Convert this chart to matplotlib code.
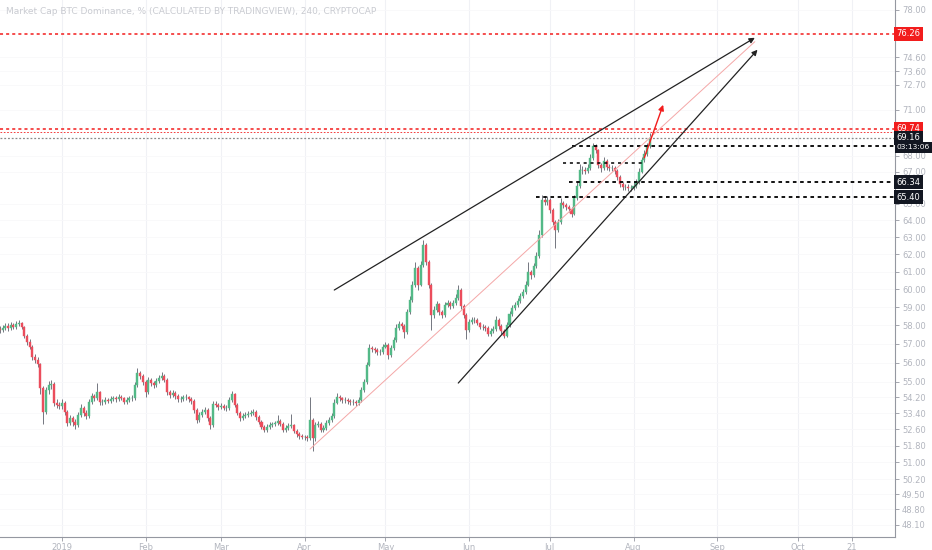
import numpy as np
import pandas as pd
import matplotlib
matplotlib.use("Agg")
import matplotlib.pyplot as plt
import matplotlib.dates as mdates
from matplotlib.ticker import FixedLocator, FixedFormatter, NullLocator

# daily candles, first day 2018-12-09
start = pd.Timestamp("2018-12-09")
first_open = 57.80
closes = [
    57.75, 57.85, 57.96, 57.85, 58.02, 57.91, 58.07, 58.12, 57.91, 57.42,
    57.10, 56.83, 56.30, 56.14, 55.93, 54.68, 53.47, 54.58, 54.84, 54.89,
    53.92, 53.82, 53.77, 53.92, 53.47, 52.91, 53.16, 52.96, 52.81, 53.32,
    53.67, 53.42, 53.26, 53.97, 54.27, 54.17, 54.48, 53.97, 53.97, 54.07,
    54.02, 54.12, 54.17, 54.12, 54.22, 54.17, 53.97, 54.07, 54.17, 54.17,
    54.84, 55.46, 55.31, 54.99, 54.48, 55.10, 54.94, 54.84, 55.05, 55.20,
    55.31, 55.10, 54.48, 54.33, 54.43, 54.27, 54.12, 54.12, 54.22, 54.22,
    54.12, 54.02, 53.57, 53.06, 53.32, 53.47, 53.57, 53.16, 52.81, 53.87,
    53.82, 53.72, 53.77, 53.67, 53.67, 54.07, 54.38, 53.82, 53.42, 53.16,
    53.26, 53.32, 53.37, 53.42, 53.47, 53.21, 52.96, 52.72, 52.57, 52.72,
    52.81, 52.86, 52.91, 53.01, 52.86, 52.57, 52.67, 52.77, 52.81, 52.52,
    52.37, 52.28, 52.23, 52.23, 52.18, 53.06, 52.18, 52.81, 52.86, 52.57,
    52.67, 52.91, 53.06, 53.26, 53.92, 54.22, 54.17, 54.07, 54.07, 54.02,
    53.97, 53.97, 53.92, 54.07, 54.58, 54.99, 55.88, 56.77, 56.72, 56.67,
    56.56, 56.56, 56.83, 56.94, 56.40, 56.77, 57.21, 57.85, 58.07, 57.96,
    57.64, 58.72, 59.39, 60.24, 61.21, 60.24, 61.38, 62.55, 61.56, 60.24,
    58.56, 58.84, 59.17, 58.72, 58.56, 59.11, 59.22, 59.06, 59.22, 59.51,
    59.95, 59.06, 58.56, 57.75, 58.18, 58.29, 58.29, 58.12, 57.91, 57.91,
    57.85, 57.53, 57.69, 57.80, 58.29, 57.96, 57.69, 57.42, 58.02, 58.61,
    58.95, 59.11, 59.34, 59.62, 59.84, 60.24, 60.98, 60.81, 61.32, 61.90,
    63.14, 65.24, 65.12, 65.24, 64.63, 63.91, 63.43, 63.91, 65.06, 64.93,
    64.81, 64.69, 64.39, 65.36, 66.11, 67.11, 67.11, 67.04, 67.23, 67.86,
    68.63, 68.38, 67.42, 67.23, 67.67, 67.30, 67.23, 67.23, 67.04, 66.66,
    66.23, 66.04, 66.04, 65.98, 65.98, 66.11, 66.35, 66.98, 67.74, 68.12,
    68.63, 69.16,
]
highs = [
    57.98, 58.02, 58.15, 58.10, 58.20, 58.14, 58.22, 58.30, 58.20, 57.98,
    57.55, 57.25, 56.95, 56.45, 56.28, 56.00, 54.80, 54.75, 55.05, 55.12,
    55.00, 54.10, 53.98, 54.12, 54.02, 53.55, 53.32, 53.25, 53.10, 53.45,
    53.85, 53.78, 53.55, 54.12, 54.45, 54.38, 54.92, 54.55, 54.12, 54.20,
    54.18, 54.26, 54.30, 54.28, 54.36, 54.32, 54.25, 54.20, 54.30, 54.32,
    55.00, 55.70, 55.58, 55.40, 55.08, 55.25, 55.22, 55.05, 55.20, 55.35,
    55.50, 55.42, 55.18, 54.60, 54.58, 54.55, 54.38, 54.28, 54.35, 54.36,
    54.30, 54.22, 54.10, 53.65, 53.48, 53.62, 53.72, 53.65, 53.25, 54.00,
    54.02, 53.92, 53.90, 53.88, 53.82, 54.22, 54.55, 54.45, 53.90, 53.50,
    53.40, 53.45, 53.50, 53.58, 53.62, 53.55, 53.30, 53.05, 52.82, 52.85,
    52.95, 52.98, 53.02, 53.30, 53.10, 52.95, 52.80, 52.90, 53.35, 52.88,
    52.60, 52.45, 52.38, 52.35, 52.32, 54.20, 53.15, 52.95, 53.00, 52.95,
    52.80, 53.05, 53.20, 53.42, 54.10, 54.42, 54.32, 54.25, 54.22, 54.18,
    54.12, 54.10, 54.08, 54.22, 54.75, 55.15, 56.05, 56.98, 56.90, 56.85,
    56.75, 56.72, 57.00, 57.10, 57.02, 56.92, 57.38, 58.05, 58.25, 58.18,
    58.05, 58.90, 59.60, 60.45, 61.55, 61.30, 61.60, 62.85, 62.65, 61.65,
    60.35, 59.05, 59.35, 59.25, 58.85, 59.30, 59.40, 59.32, 59.40, 59.70,
    60.25, 60.05, 59.15, 58.65, 58.35, 58.45, 58.45, 58.38, 58.20, 58.05,
    58.02, 57.95, 57.85, 57.95, 58.50, 58.38, 58.05, 57.78, 58.18, 58.78,
    59.12, 59.28, 59.50, 59.80, 60.02, 60.45, 61.55, 61.10, 61.50, 62.10,
    63.40, 65.55, 65.45, 65.50, 65.35, 64.75, 64.05, 64.10, 65.35, 65.20,
    65.05, 64.95, 64.80, 65.55, 66.35, 67.45, 67.35, 67.30, 67.50, 68.10,
    68.85, 68.75, 68.45, 67.55, 67.90, 67.78, 67.45, 67.42, 67.35, 67.15,
    66.78, 66.35, 66.25, 66.20, 66.18, 66.32, 66.55, 67.20, 67.95, 68.35,
    68.85, 69.45,
]
lows = [
    57.60, 57.62, 57.72, 57.70, 57.74, 57.78, 57.80, 57.95, 57.78, 57.30,
    56.95, 56.70, 56.15, 55.98, 55.75, 54.40, 52.85, 53.35, 54.40, 54.62,
    53.78, 53.65, 53.60, 53.62, 53.30, 52.75, 52.80, 52.78, 52.62, 52.70,
    53.20, 53.28, 53.10, 53.15, 53.85, 54.02, 54.05, 53.82, 53.84, 53.88,
    53.90, 53.92, 54.00, 53.98, 54.02, 54.05, 53.85, 53.88, 53.98, 54.04,
    54.08, 54.75, 55.15, 54.85, 54.20, 54.40, 54.80, 54.70, 54.75, 54.95,
    55.12, 54.98, 54.35, 54.18, 54.22, 54.12, 53.98, 53.98, 54.02, 54.08,
    53.98, 53.88, 53.42, 52.92, 52.95, 53.20, 53.35, 53.02, 52.62, 52.72,
    53.70, 53.58, 53.60, 53.55, 53.52, 53.58, 53.98, 53.70, 53.30, 53.02,
    53.05, 53.15, 53.20, 53.25, 53.30, 53.08, 52.85, 52.60, 52.45, 52.48,
    52.62, 52.70, 52.75, 52.80, 52.75, 52.45, 52.48, 52.58, 52.65, 52.40,
    52.25, 52.15, 52.12, 52.10, 52.05, 52.10, 51.55, 52.05, 52.70, 52.45,
    52.45, 52.58, 52.82, 52.95, 53.18, 53.85, 54.02, 53.92, 53.92, 53.88,
    53.82, 53.82, 53.78, 53.80, 53.98, 54.48, 54.90, 55.80, 56.58, 56.52,
    56.40, 56.42, 56.45, 56.75, 56.20, 56.30, 56.68, 57.12, 57.75, 57.80,
    57.30, 57.55, 58.62, 59.30, 60.12, 59.95, 60.15, 61.25, 61.40, 60.05,
    57.75, 58.40, 58.72, 58.55, 58.40, 58.45, 59.00, 58.90, 58.95, 59.10,
    59.40, 58.90, 58.40, 57.25, 57.65, 58.05, 58.12, 58.00, 57.78, 57.76,
    57.70, 57.40, 57.42, 57.58, 57.70, 57.82, 57.55, 57.30, 57.35, 57.92,
    58.50, 58.85, 59.00, 59.25, 59.50, 59.75, 60.15, 60.60, 60.70, 61.20,
    61.80, 63.00, 64.90, 64.95, 64.45, 63.70, 62.35, 63.30, 63.80, 64.75,
    64.62, 64.50, 64.20, 64.30, 65.25, 66.00, 66.85, 66.85, 66.90, 67.10,
    67.75, 68.20, 67.20, 66.95, 67.10, 67.12, 67.05, 67.05, 66.85, 66.48,
    66.05, 65.85, 65.82, 65.80, 65.78, 65.85, 65.98, 66.25, 66.88, 67.60,
    68.00, 68.50,
]

# drawings on the chart
red_levels = [76.26, 69.74]
red_thin = 69.55
red_labels = ["76.26", "69.74"]
last_price = 69.16
countdown = "03:13:06"
rays = [("2019-07-09", 68.64), ("2019-07-08", 66.34), ("2019-06-26", 65.40)]
short_seg = ("2019-07-06", "2019-08-05", 67.55)
black_labels = [(66.34, "66.34"), (65.40, "65.40")]
trend_upper = [("2019-04-12", 59.95), ("2019-09-15", 75.96)]
trend_lower = [("2019-05-28", 54.94), ("2019-09-16", 75.11)]
trend_mid = [("2019-04-03", 51.64), ("2019-09-15", 75.68)]
red_arrow = [("2019-08-05", 67.87), ("2019-08-12", 71.33)]

ytick_vals = [78.0, 74.6, 73.6, 72.7, 71.0, 68.0, 67.0, 65.0, 64.0, 63.0, 62.0,
              61.0, 60.0, 59.0, 58.0, 57.0, 56.0, 55.0, 54.2, 53.4, 52.6, 51.8,
              51.0, 50.2, 49.5, 48.8, 48.1]
xtick_dates = ["2019-01-01", "2019-02-01", "2019-03-01", "2019-04-01", "2019-05-01",
               "2019-06-01", "2019-07-01", "2019-08-01", "2019-09-01", "2019-10-01",
               "2019-10-21"]
xtick_labels = ["2019", "Feb", "Mar", "Apr", "May", "Jun", "Jul", "Aug", "Sep", "Oct", "21"]

UP, DOWN, WICK = "#53b987", "#eb4d5c", "#5d606b"
AXC = "#b2b5be"

closes = np.array(closes)
opens = np.concatenate([[first_open], closes[:-1]])
dates = pd.date_range(start, periods=len(closes), freq="D")
x = mdates.date2num(dates)

fig = plt.figure(figsize=(9.32, 5.5), dpi=100)
ax = fig.add_axes([0, 13 / 550, 895 / 932, 537 / 550])
ax.set_yscale("log")

up = closes >= opens
ax.vlines(x, lows, highs, color=WICK, lw=0.6, zorder=3)
ax.bar(x[up], closes[up] - opens[up], bottom=opens[up], width=0.75,
       color=UP, edgecolor=UP, lw=0.3, zorder=4)
ax.bar(x[~up], opens[~up] - closes[~up], bottom=closes[~up], width=0.75,
       color=DOWN, edgecolor=DOWN, lw=0.3, zorder=4)

xmin = mdates.date2num(start)
xmax = mdates.date2num(start + pd.Timedelta(days=332))
ax.set_xlim(xmin, xmax)
ax.set_ylim(47.55, 78.7)

# horizontal levels
for lv in red_levels:
    ax.axhline(lv, color="#f21d1d", lw=1.1, ls=(0, (2, 2)), zorder=2)
ax.axhline(red_thin, color="#f21d1d", lw=0.6, ls=(0, (2, 2)), zorder=2)
ax.axhline(last_price, color="#8a8a8a", lw=0.9, ls=(0, (1.5, 1.5)), zorder=2)
for d, lv in rays:
    ax.hlines(lv, mdates.date2num(pd.Timestamp(d)), xmax, color="black",
              lw=1.3, ls=(0, (2, 2)), zorder=5)
ax.hlines(short_seg[2], mdates.date2num(pd.Timestamp(short_seg[0])),
          mdates.date2num(pd.Timestamp(short_seg[1])), color="black",
          lw=1.1, ls=(0, (2, 2.5)), zorder=5)

def draw_arrow(pts, color, lw, head=True):
    (d0, v0), (d1, v1) = pts
    p0 = (mdates.date2num(pd.Timestamp(d0)), v0)
    p1 = (mdates.date2num(pd.Timestamp(d1)), v1)
    style = "-|>" if head else "-"
    ax.annotate("", xy=p1, xytext=p0,
                arrowprops=dict(arrowstyle=style, color=color, lw=lw,
                                mutation_scale=8, shrinkA=0, shrinkB=0),
                zorder=6)

draw_arrow(trend_mid, "#f4a7a7", 0.7, head=False)
draw_arrow(trend_upper, "#222222", 0.9)
draw_arrow(trend_lower, "#222222", 0.9)
draw_arrow(red_arrow, "#f21d1d", 1.0)

# axes styling
for s in ["left", "top"]:
    ax.spines[s].set_visible(False)
ax.spines["right"].set_color("#9598a1")
ax.spines["bottom"].set_color("#9598a1")
ax.yaxis.tick_right()
ax.yaxis.set_major_locator(FixedLocator(ytick_vals))
ax.yaxis.set_major_formatter(FixedFormatter(["%.2f" % v for v in ytick_vals]))
ax.yaxis.set_minor_locator(NullLocator())
ax.tick_params(axis="y", length=3, width=0.6, color="#9598a1", labelsize=6,
               labelcolor=AXC, pad=2)
ax.xaxis.set_major_locator(FixedLocator(mdates.date2num(pd.to_datetime(xtick_dates))))
ax.xaxis.set_major_formatter(FixedFormatter(xtick_labels))
ax.tick_params(axis="x", length=3, width=0.6, color="#9598a1", labelsize=6,
               labelcolor=AXC, pad=1)
ax.grid(axis="x", color="#f0f1f5", lw=0.8, zorder=0)
ax.grid(axis="y", color="#f8f8fa", lw=0.6, zorder=0)

# price labels on the scale
ytr = ax.get_yaxis_transform()
def price_tag(val, txt, fc, size=6.0):
    ax.text(1.002, val, txt, transform=ytr, ha="left", va="center",
            fontsize=size, color="white", clip_on=False, zorder=10,
            bbox=dict(boxstyle="square,pad=0.3", fc=fc, ec="none"))

price_tag(red_levels[0], red_labels[0], "#f21d1d")
price_tag(red_levels[1], red_labels[1], "#f21d1d")
price_tag(last_price, "%.2f" % last_price, "#131722")
price_tag(68.54, countdown, "#131722", size=5.4)
for val, txt in black_labels:
    price_tag(val, txt, "#131722")

fig.text(0.006, 0.988, "Market Cap BTC Dominance, % (CALCULATED BY TRADINGVIEW), 240, CRYPTOCAP",
         color="#c9cbd1", fontsize=6.5, ha="left", va="top")

fig.savefig("out.png", dpi=100, facecolor="white")
